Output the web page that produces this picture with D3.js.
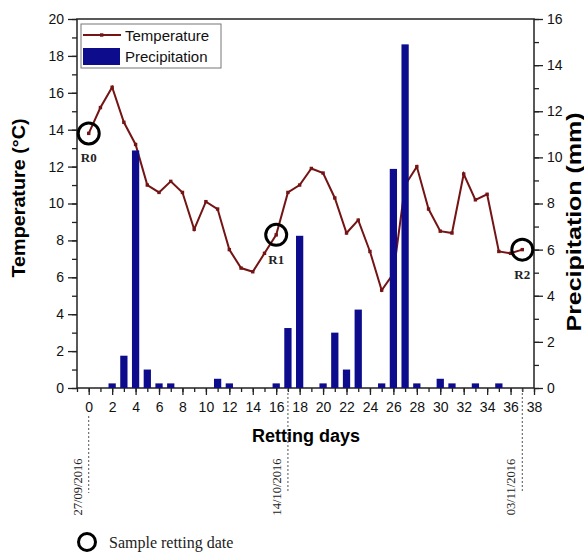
<!DOCTYPE html>
<html lang="en">
<head>
    <meta charset="UTF-8">
    <title>Retting days: temperature and precipitation</title>
    <script src="https://d3js.org/d3.v7.min.js"></script>
    <style>
        body {
            margin: 0;
            padding: 0;
            background: #fff;
        }

        svg text {
            font-family: "Liberation Sans", Arial, sans-serif;
        }

        .serif {
            font-family: "Liberation Serif", "Times New Roman", serif !important;
        }
    </style>
</head>
<body>
<svg id="chart" width="584" height="553"></svg>
<script>
    // daily mean temperature (°C), retting day 0..37
    var temperature = [13.8, 15.2, 16.3, 14.4, 13.2, 11.0, 10.6, 11.2, 10.6, 8.6,
        10.1, 9.7, 7.5, 6.5, 6.3, 7.3, 8.3, 10.6, 11.0, 11.9,
        11.65, 10.3, 8.4, 9.1, 7.4, 5.3, 6.2, 11.0, 12.0, 9.7,
        8.5, 8.4, 11.6, 10.2, 10.5, 7.4, 7.3, 7.5];

    // precipitation (mm), only the days with rain
    var rainDays = [2, 3, 4, 5, 6, 7, 11, 12, 16, 17, 18, 20, 21, 22, 23, 25, 26, 27, 28, 30, 31, 33, 35];
    var rainValues = [0.2, 1.4, 10.3, 0.8, 0.2, 0.2, 0.4, 0.2, 0.2, 2.6, 6.6, 0.2, 2.4, 0.8, 3.4, 0.2, 9.5, 14.9, 0.2, 0.4, 0.2, 0.2, 0.2];

    var sampleDays = [0, 16, 37];
    var sampleNames = ['R0', 'R1', 'R2'];

    var dateDays = [0, 17, 37];
    var dateLabels = ['27/09/2016', '14/10/2016', '03/11/2016'];

    var xTicks = [0, 2, 4, 6, 8, 10, 12, 14, 16, 18, 20, 22, 24, 26, 28, 30, 32, 34, 36, 38];
    var tempTicks = [0, 2, 4, 6, 8, 10, 12, 14, 16, 18, 20];
    var rainTicks = [0, 2, 4, 6, 8, 10, 12, 14, 16];

    (function () {
        var lineColor = '#741414';
        var barColor = '#0c0c8c';

        var plotLeft = 77, plotRight = 534, plotTop = 19, plotBottom = 388;

        var svg = d3.select('#chart');

        var x = d3.scaleLinear().domain([-1, 38]).range([plotLeft, plotRight]);
        var yT = d3.scaleLinear().domain([0, 20]).range([plotBottom, plotTop]);
        var yP = d3.scaleLinear().domain([0, 16]).range([plotBottom, plotTop]);

        function styleAxis(g) {
            g.select('.domain').remove();
            g.selectAll('line').attr('stroke', '#222').attr('stroke-width', 1.3);
            g.selectAll('text').attr('fill', '#111').attr('font-size', '14px');
        }

        // minor ticks first
        svg.append('g')
            .attr('transform', 'translate(' + plotLeft + ',0)')
            .call(d3.axisLeft(yT).ticks(20).tickSize(5).tickFormat(''))
            .call(styleAxis);
        svg.append('g')
            .attr('transform', 'translate(' + plotLeft + ',0)')
            .call(d3.axisLeft(yT).tickValues(tempTicks).tickSize(9).tickPadding(4))
            .call(styleAxis);

        svg.append('g')
            .attr('transform', 'translate(' + plotRight + ',0)')
            .call(d3.axisRight(yP).ticks(16).tickSize(5).tickFormat(''))
            .call(styleAxis);
        svg.append('g')
            .attr('transform', 'translate(' + plotRight + ',0)')
            .call(d3.axisRight(yP).tickValues(rainTicks).tickSize(9).tickPadding(4))
            .call(styleAxis);

        svg.append('g')
            .attr('transform', 'translate(0,' + plotBottom + ')')
            .call(d3.axisBottom(x).ticks(39).tickSize(4).tickFormat(''))
            .call(styleAxis);
        svg.append('g')
            .attr('transform', 'translate(0,' + plotBottom + ')')
            .call(d3.axisBottom(x).tickValues(xTicks).tickSize(7).tickPadding(7))
            .call(styleAxis);

        // frame
        svg.append('rect')
            .attr('x', plotLeft).attr('y', plotTop)
            .attr('width', plotRight - plotLeft).attr('height', plotBottom - plotTop)
            .attr('fill', 'none').attr('stroke', '#222').attr('stroke-width', 1.5);

        // temperature line (drawn under the bars)
        var line = d3.line()
            .x(function (d, i) { return x(i); })
            .y(function (d) { return yT(d); });
        svg.append('path')
            .datum(temperature)
            .attr('d', line)
            .attr('fill', 'none')
            .attr('stroke', lineColor)
            .attr('stroke-width', 2);
        svg.append('g').selectAll('rect')
            .data(temperature)
            .join('rect')
            .attr('x', function (d, i) { return x(i) - 1.7; })
            .attr('y', function (d) { return yT(d) - 1.7; })
            .attr('width', 3.4).attr('height', 3.4)
            .attr('fill', lineColor);

        // precipitation bars
        var barW = (x(1) - x(0)) * 0.62;
        svg.append('g').selectAll('rect')
            .data(rainValues)
            .join('rect')
            .attr('x', function (d, i) { return x(rainDays[i]) - barW / 2; })
            .attr('y', function (d) { return yP(d); })
            .attr('width', barW)
            .attr('height', function (d) { return yP(0) - yP(d); })
            .attr('fill', barColor);

        // sample retting circles
        var samples = svg.append('g').selectAll('g')
            .data(sampleDays)
            .join('g')
            .attr('transform', function (d) { return 'translate(' + x(d) + ',' + yT(temperature[d]) + ')'; });
        samples.append('circle')
            .attr('r', 10.5)
            .attr('fill', 'none')
            .attr('stroke', '#000')
            .attr('stroke-width', 3);
        samples.append('text')
            .attr('class', 'serif')
            .attr('y', 29)
            .attr('text-anchor', 'middle')
            .attr('font-size', '13px')
            .attr('font-weight', 'bold')
            .attr('fill', '#222')
            .text(function (d, i) { return sampleNames[i]; });

        // dashed date markers
        var dates = svg.append('g').selectAll('g')
            .data(dateDays)
            .join('g');
        dates.append('line')
            .attr('x1', function (d) { return x(d); })
            .attr('x2', function (d) { return x(d); })
            .attr('y1', function (d, i) { return i === 0 ? plotBottom + 28 : plotBottom + 1; })
            .attr('y2', 493)
            .attr('stroke', '#555')
            .attr('stroke-width', 1)
            .attr('stroke-dasharray', '2,2');
        dates.append('text')
            .attr('class', 'serif')
            .attr('transform', function (d) { return 'translate(' + (x(d) - 7) + ',487) rotate(-90)'; })
            .attr('text-anchor', 'middle')
            .attr('font-size', '12.5px')
            .attr('fill', '#222')
            .text(function (d, i) { return dateLabels[i]; });

        // axis titles
        svg.append('text')
            .attr('transform', 'translate(25,198) rotate(-90)')
            .attr('text-anchor', 'middle')
            .attr('font-size', '18px')
            .attr('font-weight', 'bold')
            .attr('textLength', 159)
            .attr('lengthAdjust', 'spacingAndGlyphs')
            .text('Temperature (°C)');
        svg.append('text')
            .attr('transform', 'translate(581,222) rotate(-90)')
            .attr('text-anchor', 'middle')
            .attr('font-size', '20px')
            .attr('font-weight', 'bold')
            .attr('textLength', 219)
            .attr('lengthAdjust', 'spacingAndGlyphs')
            .text('Precipitation (mm)');
        svg.append('text')
            .attr('x', 306).attr('y', 442)
            .attr('text-anchor', 'middle')
            .attr('font-size', '18px')
            .attr('font-weight', 'bold')
            .text('Retting days');

        // legend
        var legend = svg.append('g');
        legend.append('rect')
            .attr('x', 81).attr('y', 24).attr('width', 140).attr('height', 44)
            .attr('fill', '#fff').attr('stroke', '#777').attr('stroke-width', 1);
        legend.append('line')
            .attr('x1', 83).attr('x2', 121).attr('y1', 35).attr('y2', 35)
            .attr('stroke', lineColor).attr('stroke-width', 2);
        legend.append('rect')
            .attr('x', 100).attr('y', 33.3).attr('width', 3.4).attr('height', 3.4)
            .attr('fill', lineColor);
        legend.append('text')
            .attr('x', 125).attr('y', 41)
            .attr('font-size', '15px')
            .attr('fill', '#111')
            .text('Temperature');
        legend.append('rect')
            .attr('x', 83).attr('y', 48).attr('width', 37).attr('height', 17)
            .attr('fill', barColor);
        legend.append('text')
            .attr('x', 125).attr('y', 62)
            .attr('font-size', '15px')
            .attr('fill', '#111')
            .text('Precipitation');

        // bottom key
        svg.append('circle')
            .attr('cx', 87).attr('cy', 542).attr('r', 8.5)
            .attr('fill', 'none').attr('stroke', '#000').attr('stroke-width', 3);
        svg.append('text')
            .attr('class', 'serif')
            .attr('x', 109).attr('y', 548)
            .attr('font-size', '16px')
            .attr('fill', '#222')
            .text('Sample retting date');
    })();
</script>
</body>
</html>
